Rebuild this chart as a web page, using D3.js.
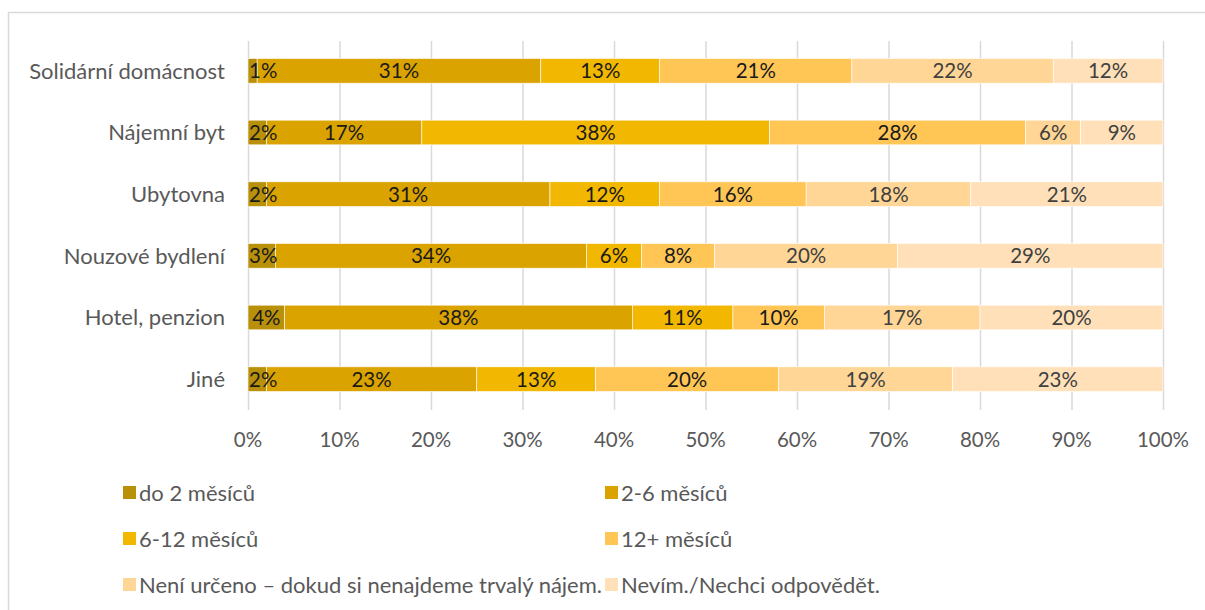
<!DOCTYPE html>
<html>
<head>
<meta charset="utf-8">
<script src="https://cdn.jsdelivr.net/npm/d3@7"></script>
<style>
  html, body { margin: 0; padding: 0; background: #fff; }
  svg { display: block; font-family: Lato, "Noto Sans", sans-serif; }
</style>
</head>
<body>
<div id="chart"></div>
<script>
const categories = ['Solidární domácnost', 'Nájemní byt', 'Ubytovna', 'Nouzové bydlení', 'Hotel, penzion', 'Jiné'];
const seriesNames = ['do 2 měsíců', '2-6 měsíců', '6-12 měsíců', '12+ měsíců',
  'Není určeno – dokud si nenajdeme trvalý nájem.', 'Nevím./Nechci odpovědět.'];
const seriesColors = ['#B8900A', '#DAA300', '#F2B700', '#FFC655', '#FFD696', '#FFE0B8'];
const labelColors = ['#1a1a1a', '#1a1a1a', '#1a1a1a', '#1a1a1a', '#404040', '#404040'];
// values in %, one array per category, in series order
const values = [
  [1, 31, 13, 21, 22, 12],
  [2, 17, 38, 28, 6, 9],
  [2, 31, 12, 16, 18, 21],
  [3, 34, 6, 8, 20, 29],
  [4, 38, 11, 10, 17, 20],
  [2, 23, 13, 20, 19, 23]
];
const xTicks = [0, 10, 20, 30, 40, 50, 60, 70, 80, 90, 100];

const W = 1205, H = 610;
const FS_NUM = 20.5, FS_TXT = 22;
const svg = d3.select('#chart').append('svg').attr('width', W).attr('height', H);

// outer chart border
svg.append('path')
  .attr('d', `M8.5,${H} V12.5 H${W}`)
  .attr('fill', 'none').attr('stroke', '#d9d9d9').attr('stroke-width', 1.5);

const x = d3.scaleLinear().domain([0, 100]).range([248, 1163]);
const y = d3.scaleBand().domain(categories).range([40, 410]).paddingInner(0.6).paddingOuter(0.3);

// gridlines
svg.append('g').selectAll('line').data(xTicks).join('line')
  .attr('x1', d => x(d) + 0.5).attr('x2', d => x(d) + 0.5)
  .attr('y1', 41).attr('y2', 410)
  .attr('stroke', '#d9d9d9').attr('stroke-width', 1.5);

// stacked data
const rows = categories.map((c, i) => {
  let acc = 0;
  return values[i].map((v, s) => {
    const seg = { cat: c, s, v, x0: acc, x1: acc + v };
    acc += v;
    return seg;
  });
});

const rowG = svg.append('g').selectAll('g').data(rows).join('g');
rowG.selectAll('rect').data(d => d).join('rect')
  .attr('x', d => x(d.x0))
  .attr('y', d => y(d.cat))
  .attr('width', d => x(d.x1) - x(d.x0))
  .attr('height', y.bandwidth())
  .attr('fill', d => seriesColors[d.s])
  .attr('stroke', '#fff').attr('stroke-width', 0.6);

rowG.selectAll('text').data(d => d).join('text')
  .attr('y', d => y(d.cat) + y.bandwidth() / 2)
  .attr('dy', '0.36em')
  .attr('text-anchor', 'middle')
  .attr('font-size', FS_NUM)
  .attr('fill', d => labelColors[d.s])
  .text(d => d.v + '%')
  .attr('x', function(d) {
    // keep narrow labels inside the plot, like the spreadsheet does
    const half = this.getComputedTextLength() / 2;
    return Math.max((x(d.x0) + x(d.x1)) / 2, x(0) + half + 1);
  });

// category axis labels
svg.append('g').selectAll('text').data(categories).join('text')
  .attr('x', 225)
  .attr('y', d => y(d) + y.bandwidth() / 2)
  .attr('dy', '0.36em')
  .attr('text-anchor', 'end')
  .attr('font-size', FS_TXT)
  .attr('fill', '#595959')
  .text(d => d);

// x axis tick labels
svg.append('g').selectAll('text').data(xTicks).join('text')
  .attr('x', d => x(d))
  .attr('y', 440)
  .attr('dy', '0.36em')
  .attr('text-anchor', 'middle')
  .attr('font-size', FS_NUM)
  .attr('fill', '#595959')
  .text(d => d + '%');

// legend: two columns, three rows
const legend = svg.append('g').selectAll('g').data(seriesNames).join('g')
  .attr('transform', (d, i) => `translate(${i % 2 === 0 ? 123 : 605},${493 + Math.floor(i / 2) * 46})`);
legend.append('rect')
  .attr('x', 0).attr('y', -7).attr('width', 13).attr('height', 13)
  .attr('fill', (d, i) => seriesColors[i]);
legend.append('text')
  .attr('x', 16).attr('dy', '0.36em')
  .attr('font-size', FS_TXT)
  .attr('fill', '#595959')
  .text(d => d);
</script>
</body>
</html>
